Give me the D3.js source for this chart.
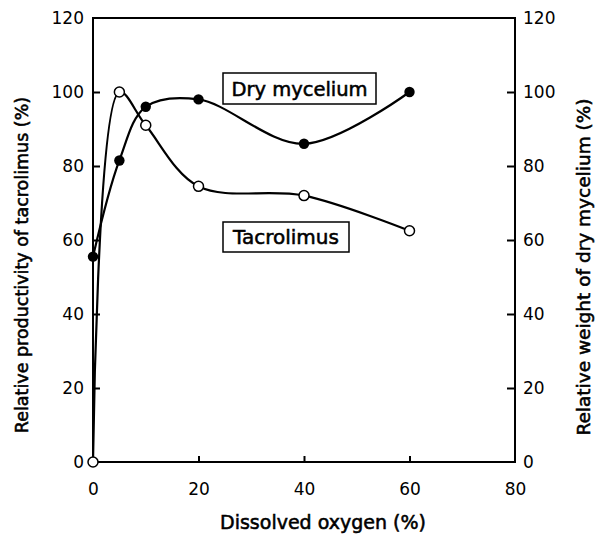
<!DOCTYPE html>
<html><head><meta charset="utf-8">
<script src="https://cdn.jsdelivr.net/npm/d3@7"></script>
<style>
html,body{margin:0;padding:0;background:#fff;}
svg{display:block;font-family:"DejaVu Sans",sans-serif;}
</style>
</head><body>
<svg id="chart" width="595" height="534"></svg>
<script>
const oxygen = [0, 5, 10, 20, 40, 60];
const dryMycelium = [55.5, 81.5, 96, 98, 86, 100];
const tacrolimus = [0, 100, 91, 74.5, 72, 62.5];
const xTicks = [0, 20, 40, 60, 80];
const yTicks = [0, 20, 40, 60, 80, 100, 120];
const xTitle = "Dissolved oxygen (%)";
const yLeftTitle = "Relative productivity of tacrolimus (%)";
const yRightTitle = "Relative weight of dry mycelium  (%)";
const seriesLabels = ["Dry mycelium", "Tacrolimus"];

const FONT = "DejaVu Sans, sans-serif";
const svg = d3.select("#chart");
const L = 93, R = 515, T = 18, B = 462;
const x = d3.scaleLinear().domain([0, 80]).range([L, R]);
const y = d3.scaleLinear().domain([0, 120]).range([B, T]);

const tickFont = 17;
const gl = svg.append("g").attr("transform", `translate(${L},0)`)
  .call(d3.axisLeft(y).tickValues(yTicks).tickSize(-7).tickPadding(9));
const gr = svg.append("g").attr("transform", `translate(${R},0)`)
  .call(d3.axisRight(y).tickValues(yTicks).tickSize(-8).tickPadding(8));
const gb = svg.append("g").attr("transform", `translate(0,${B})`)
  .call(d3.axisBottom(x).tickValues(xTicks).tickSize(-6).tickPadding(21));
[gl, gr, gb].forEach(g => {
  g.select(".domain").remove();
  g.selectAll("line").attr("stroke", "#000").attr("stroke-width", 2);
  g.selectAll("text").attr("font-size", tickFont).attr("fill", "#000")
    .attr("font-family", FONT);
});
gl.selectAll(".tick").filter(d => d === 0 || d === 120).select("line").remove();
gr.selectAll(".tick").filter(d => d === 0 || d === 120).select("line").remove();
gb.selectAll(".tick").filter(d => d === 0 || d === 80).select("line").remove();

svg.append("path")
  .attr("d", `M${L},${T}H${R}V${B}H${L}Z`)
  .attr("fill", "none").attr("stroke", "#000").attr("stroke-width", 2);

const line = (vals) => d3.line()
  .x((d, i) => x(oxygen[i])).y(d => y(d))
  .curve(d3.curveCatmullRom.alpha(0.5))(vals);

svg.append("path").attr("d", line(dryMycelium))
  .attr("fill", "none").attr("stroke", "#000").attr("stroke-width", 2.2);
svg.append("path").attr("d", line(tacrolimus))
  .attr("fill", "none").attr("stroke", "#000").attr("stroke-width", 2.2);

svg.append("g").selectAll("circle").data(tacrolimus).join("circle")
  .attr("cx", (d, i) => x(oxygen[i])).attr("cy", d => y(d)).attr("r", 5)
  .attr("fill", "#fff").attr("stroke", "#000").attr("stroke-width", 1.5);
svg.append("g").selectAll("circle").data(dryMycelium).join("circle")
  .attr("cx", (d, i) => x(oxygen[i])).attr("cy", d => y(d)).attr("r", 5.2)
  .attr("fill", "#000");

function semibold(sel) {
  return sel.attr("font-family", FONT).attr("fill", "#000")
    .attr("stroke", "#000").attr("stroke-width", 0.55);
}
function labelBox(text, x0, y0, w, h, fs) {
  svg.append("rect").attr("x", x0).attr("y", y0).attr("width", w).attr("height", h)
    .attr("fill", "#fff").attr("stroke", "#000").attr("stroke-width", 1.5);
  semibold(svg.append("text").attr("x", x0 + w / 2).attr("y", y0 + h / 2 + 7)
    .attr("text-anchor", "middle").attr("font-size", fs)).text(text);
}
labelBox(seriesLabels[0], 223, 73, 153, 31, 19.5);
labelBox(seriesLabels[1], 223, 222, 126, 30, 20);

semibold(svg.append("text").attr("x", 323).attr("y", 529).attr("text-anchor", "middle")
  .attr("font-size", 19)).text(xTitle);
semibold(svg.append("text").attr("transform", "translate(28,265) rotate(-90)")
  .attr("text-anchor", "middle").attr("font-size", 17.5)).text(yLeftTitle);
semibold(svg.append("text").attr("transform", "translate(590,267) rotate(-90)")
  .attr("text-anchor", "middle").attr("font-size", 18.5)).text(yRightTitle);
</script>
</body></html>
